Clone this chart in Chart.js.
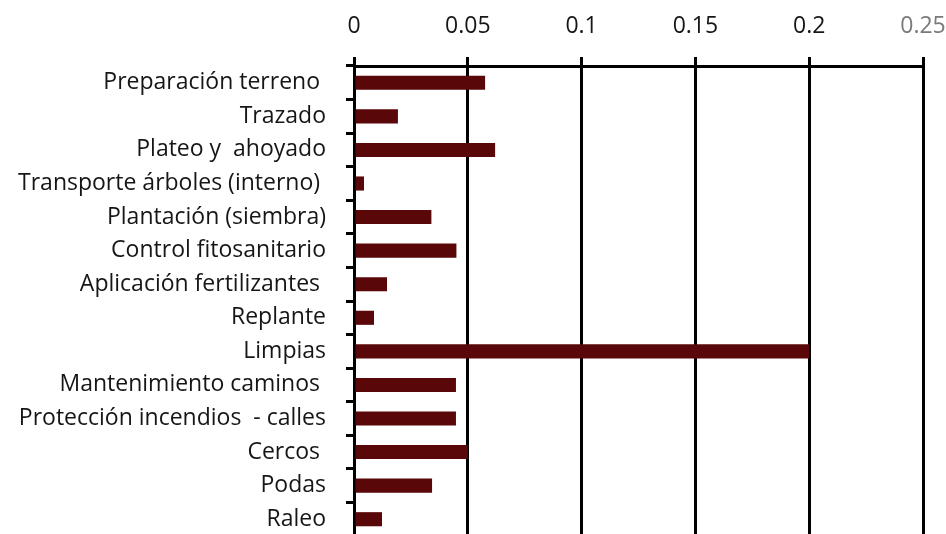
<!DOCTYPE html>
<html>
<head>
<meta charset="utf-8">
<script src="https://cdn.jsdelivr.net/npm/chart.js@4.4.1/dist/chart.umd.min.js"></script>
<style>
  html, body { margin: 0; padding: 0; background: #ffffff; overflow: hidden; }
  #wrap { width: 946px; height: 540px; }
</style>
</head>
<body>
<div id="wrap"><canvas id="chart" width="946" height="540"></canvas></div>
<script>
// Labour activities (trailing spaces kept as typed in the source labels)
const activities = [
  "Preparación terreno ",
  "Trazado",
  "Plateo y  ahoyado",
  "Transporte árboles (interno) ",
  "Plantación (siembra)",
  "Control fitosanitario",
  "Aplicación fertilizantes ",
  "Replante",
  "Limpias",
  "Mantenimiento caminos ",
  "Protección incendios  - calles",
  "Cercos ",
  "Podas",
  "Raleo"
];

// Share of each activity
const shares = [0.0576, 0.0193, 0.0620, 0.0044, 0.0340, 0.0450, 0.0145, 0.0088, 0.2000, 0.0448, 0.0448, 0.0500, 0.0343, 0.0123];

// Value axis ticks
const xTicks = [0, 0.05, 0.1, 0.15, 0.2, 0.25];

const barColor = "#5a0709";
const ink = "#161616";

new Chart(document.getElementById("chart"), {
  type: "bar",
  data: {
    labels: activities,
    datasets: [{
      data: shares,
      backgroundColor: barColor,
      borderWidth: 0,
      barPercentage: 0.42,
      categoryPercentage: 1.0
    }]
  },
  options: {
    indexAxis: "y",
    responsive: false,
    animation: false,
    events: [],
    layout: { padding: { top: 0, right: 23, bottom: 4, left: 0 } },
    plugins: {
      legend: { display: false },
      tooltip: { enabled: false }
    },
    scales: {
      x: {
        position: "top",
        min: 0,
        max: 0.25,
        afterBuildTicks: (scale) => { scale.ticks = xTicks.map(v => ({ value: v })); },
        afterFit: (scale) => {
          scale.height = 66;
          scale.paddingLeft = 0;
          scale.paddingRight = 0;
        },
        grid: {
          color: "#000000",
          lineWidth: 3,
          tickLength: 9,
          drawTicks: true
        },
        border: { display: true, color: "#000000", width: 3 },
        ticks: {
          padding: 17,
          font: { family: "Open Sans", size: 23 },
          color: (ctx) => (ctx.index === xTicks.length - 1 ? "#7a7a7a" : ink),
          callback: (v) => String(v)
        }
      },
      y: {
        afterFit: (scale) => {
          scale.width = 354;
          scale.paddingTop = 0;
          scale.paddingBottom = 0;
        },
        grid: {
          display: true,
          drawOnChartArea: false,
          drawTicks: true,
          tickLength: 8,
          color: "#000000",
          lineWidth: 3
        },
        border: { display: true, color: "#000000", width: 3 },
        ticks: {
          padding: 20,
          font: { family: "Open Sans", size: 23 },
          color: ink,
          autoSkip: false
        }
      }
    }
  }
});
</script>
</body>
</html>
